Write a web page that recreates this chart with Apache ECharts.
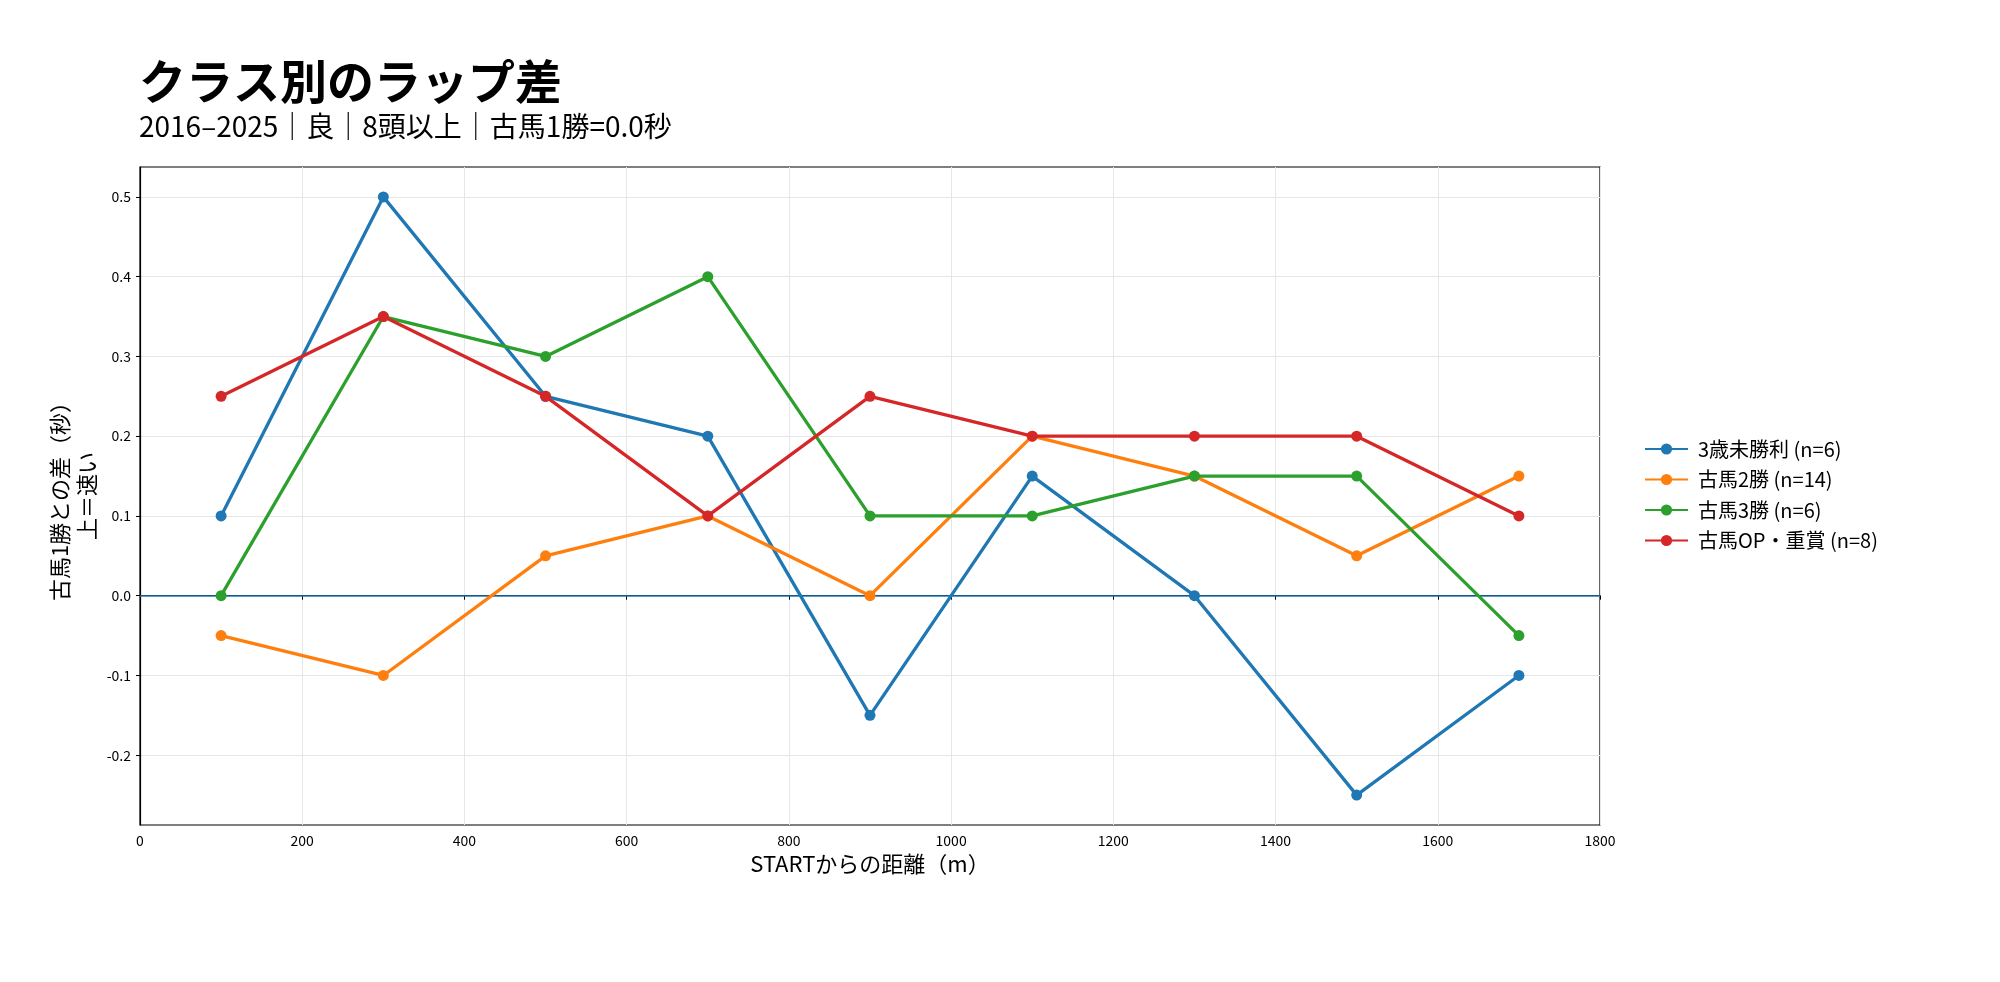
<!DOCTYPE html>
<html>
<head>
<meta charset="utf-8">
<title>クラス別のラップ差</title>
<script src="https://cdn.jsdelivr.net/npm/echarts@6/dist/echarts.min.js"></script>
<style>
  html, body { margin: 0; padding: 0; background: #fff; }
  #chart { width: 2000px; height: 982px; }
</style>
</head>
<body>
<div id="chart"></div>
<script>
// 距離（m）
const distances = [100, 300, 500, 700, 900, 1100, 1300, 1500, 1700];
// 各クラスの古馬1勝との差（秒）
const maiden3 = [0.1, 0.5, 0.25, 0.2, -0.15, 0.15, 0.0, -0.25, -0.1];
const win2 = [-0.05, -0.1, 0.05, 0.1, 0.0, 0.2, 0.15, 0.05, 0.15];
const win3 = [0.0, 0.35, 0.3, 0.4, 0.1, 0.1, 0.15, 0.15, -0.05];
const openGraded = [0.25, 0.35, 0.25, 0.1, 0.25, 0.2, 0.2, 0.2, 0.1];
const seriesNames = ['3歳未勝利 (n=6)', '古馬2勝 (n=14)', '古馬3勝 (n=6)', '古馬OP・重賞 (n=8)'];
const colors = ['#1f77b4', '#ff7f0e', '#2ca02c', '#d62728'];
// 目盛り
const yTicks = [-0.2, -0.1, 0.0, 0.1, 0.2, 0.3, 0.4, 0.5];

const font = '"Noto Sans CJK JP", "Noto Sans", sans-serif';

function pairs(ys) {
  return distances.map((x, i) => [x, ys[i]]);
}

const myChart = echarts.init(document.getElementById('chart'), null, { renderer: 'canvas' });

const allData = [maiden3, win2, win3, openGraded];
const series = allData.map((ys, i) => ({
  name: seriesNames[i],
  type: 'line',
  data: pairs(ys),
  symbol: 'circle',
  symbolSize: 11,
  lineStyle: { width: 3.3, color: colors[i] },
  itemStyle: { color: colors[i] },
  z: 3 + i
}));
// 0秒の基準線
series[0].markLine = {
  silent: true,
  symbol: 'none',
  label: { show: false },
  lineStyle: { color: '#1f77b4', width: 1.5, type: 'solid' },
  data: [{ yAxis: 0 }],
  z: 1
};

myChart.setOption({
  animation: false,
  backgroundColor: '#fff',
  color: colors,
  textStyle: { fontFamily: font },
  title: {
    text: 'クラス別のラップ差',
    subtext: '2016–2025｜良｜8頭以上｜古馬1勝=0.0秒',
    left: 134,
    top: 53,
    itemGap: 7,
    textStyle: { fontFamily: font, fontSize: 47, fontWeight: 'bold', color: '#000' },
    subtextStyle: { fontFamily: font, fontSize: 28, color: '#000' }
  },
  legend: {
    orient: 'vertical',
    left: 1639,
    top: 434,
    itemWidth: 43,
    itemHeight: 14,
    itemGap: 10.5,
    textStyle: { fontFamily: font, fontSize: 20, color: '#000', lineHeight: 20, padding: [0, 0, 0, 5] },
    data: seriesNames
  },
  grid: {
    left: 140,
    right: 400,
    top: 167,
    bottom: 157,
    show: true,
    borderColor: '#000',
    borderWidth: 1.2
  },
  xAxis: {
    type: 'value',
    min: 0,
    max: 1800,
    interval: 200,
    name: 'STARTからの距離（m）',
    nameLocation: 'middle',
    nameGap: 26,
    nameTextStyle: { fontFamily: font, fontSize: 22, color: '#000' },
    axisLine: { show: true, lineStyle: { color: '#000', width: 1.2 } },
    axisTick: { show: true, inside: false, length: 4, lineStyle: { color: '#000' } },
    axisLabel: { fontFamily: font, fontSize: 14, color: '#000', margin: 9, formatter: v => String(v) },
    splitLine: { show: true, lineStyle: { color: '#e6e6e6', width: 1 } }
  },
  yAxis: {
    type: 'value',
    min: -0.2875,
    max: 0.5375,
    name: '古馬1勝との差（秒）\n上＝速い',
    nameLocation: 'middle',
    nameRotate: 90,
    nameGap: 40,
    nameMoveOverlap: false,
    nameTextStyle: { fontFamily: font, fontSize: 22, color: '#000', lineHeight: 27, align: 'center' },
    axisLine: { show: true, lineStyle: { color: '#000', width: 1.2 } },
    axisTick: { show: true, inside: false, length: 4, lineStyle: { color: '#000' }, customValues: yTicks },
    axisLabel: {
      fontFamily: font, fontSize: 14, color: '#000', margin: 9,
      customValues: yTicks,
      formatter: v => v.toFixed(1)
    },
    splitLine: { show: true, lineStyle: { color: '#e6e6e6', width: 1 } }
  },
  series: series
});
</script>
</body>
</html>
